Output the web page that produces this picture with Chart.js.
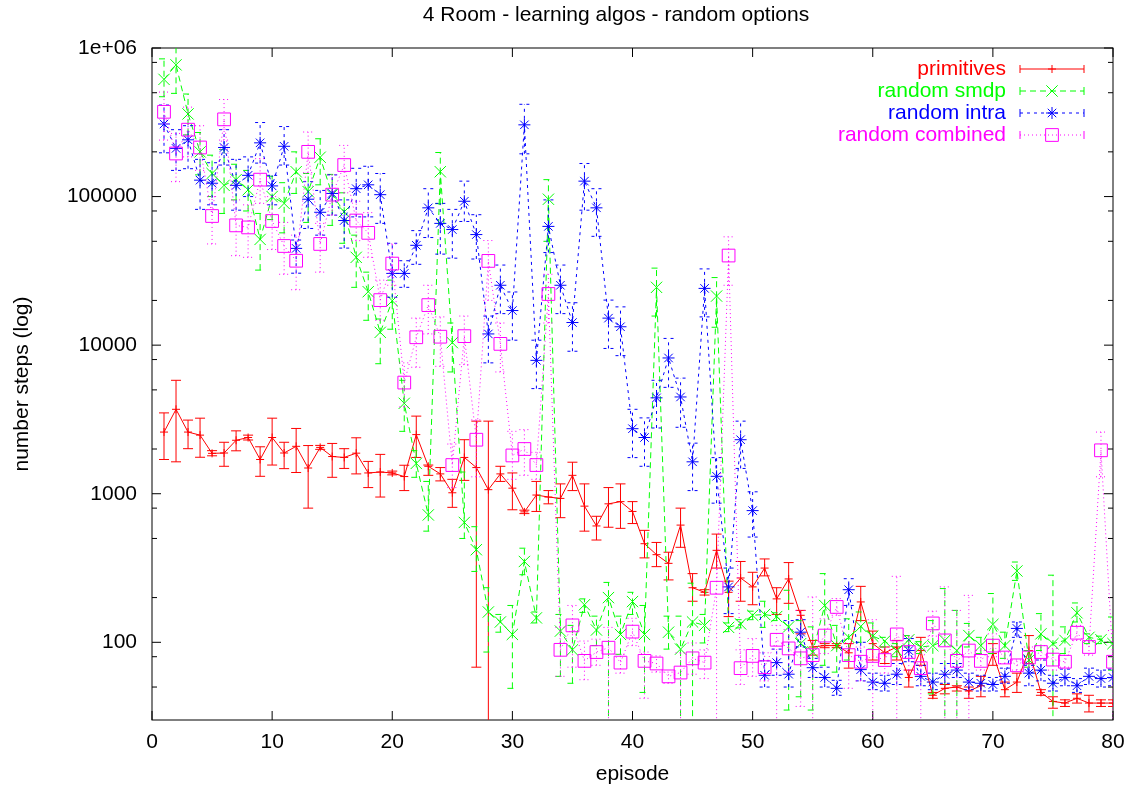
<!DOCTYPE html>
<html>
<head>
<meta charset="utf-8">
<title>4 Room - learning algos - random options</title>
<script src="https://cdn.jsdelivr.net/npm/chart.js@4.4.1/dist/chart.umd.min.js"></script>
<style>
	body { margin: 0; background: #fff; }
	canvas { display: block; }
</style>
</head>
<body>
<canvas id="chart0" width="1138" height="790"></canvas>
<script>
const chartTitle = "4 Room - learning algos - random options";

const episodes = [1, 2, 3, 4, 5, 6, 7, 8, 9, 10, 11, 12, 13, 14, 15, 16, 17, 18, 19, 20,
	21, 22, 23, 24, 25, 26, 27, 28, 29, 30, 31, 32, 33, 34, 35, 36, 37, 38, 39, 40,
	41, 42, 43, 44, 45, 46, 47, 48, 49, 50, 51, 52, 53, 54, 55, 56, 57, 58, 59, 60,
	61, 62, 63, 64, 65, 66, 67, 68, 69, 70, 71, 72, 73, 74, 75, 76, 77, 78, 79, 80];

// primitives
const primSteps = [2600, 3700, 2600, 2480, 1870, 1880, 2290, 2390, 1700, 2390,
	1880, 2085, 1490, 2050, 1780, 1755, 1875, 1380, 1400, 1380,
	1305, 2500, 1530, 1360, 1015, 1755, 1500, 1065, 1360, 1090,
	755, 980, 950, 930, 1330, 825, 607, 855, 885, 760,
	461, 389, 340, 615, 233, 217, 416, 217, 271, 236,
	316, 196, 267, 152, 93, 95, 95, 85, 187, 98,
	85, 93, 58, 88, 44, 49, 50, 47, 51, 84,
	48, 54, 88, 46, 40, 39, 42, 39, 39, 39];
const primLo = [1700, 1640, 2010, 1760, 1800, 1530, 1945, 2300, 1310, 1560,
	1475, 1390, 800, 1990, 1290, 1480, 1360, 1100, 950, 1340,
	1050, 1755, 1330, 1220, 810, 1230, 68, 10, 1210, 780,
	735, 760, 855, 690, 1050, 560, 488, 595, 585, 630,
	370, 323, 263, 436, 189, 208, 316, 149, 189, 179,
	280, 154, 183, 114, 82, 92, 92, 67, 140, 76,
	72, 76, 50, 70, 42, 45, 47, 42, 43, 70,
	43, 46, 72, 44, 36, 37, 39, 34, 37, 37];
const primHi = [3500, 5800, 3130, 3225, 1950, 2220, 2650, 2480, 2070, 3225,
	2220, 2750, 2110, 2115, 2180, 2010, 2380, 1650, 1840, 1420,
	1555, 3330, 1560, 1500, 1250, 2310, 3080, 3080, 1530, 1380,
	775, 1210, 1050, 1165, 1630, 1165, 705, 1100, 1165, 885,
	567, 470, 404, 800, 290, 226, 535, 258, 350, 296,
	364, 233, 344, 164, 103, 98, 98, 98, 238, 119,
	93, 103, 65, 108, 46, 52, 51, 50, 59, 98,
	54, 62, 111, 48, 43, 41, 45, 44, 41, 41];

// random smdp
const smdpSteps = [615000, 770000, 360000, 200000, 143000, 119000, 130000, 111000, 51500, 100000,
	90000, 147000, 108000, 184000, 103000, 79000, 39000, 22900, 12200, 19900,
	4060, 1600, 720, 147000, 10400, 641, 420, 160, 137, 113,
	350, 146, 96000, 119, 89, 179, 121, 200, 113, 188,
	113, 24500, 117, 90, 137, 130, 21400, 126, 133, 152,
	154, 149, 127, 98, 86, 177, 95, 108, 128, 110,
	102, 88, 104, 93, 95, 103, 88, 111, 95, 132,
	95, 302, 76, 114, 98, 103, 158, 108, 104, 98];
const smdpLo = [470000, 495000, 260000, 140000, 100000, 77000, 95000, 80000, 32000, 70000,
	57000, 105000, 67000, 120000, 64000, 48500, 24500, 14700, 7500, 12800,
	2630, 1290, 560, 89600, 6600, 500, 300, 86, 117, 49,
	285, 135, 50000, 59, 53, 159, 95, 20, 83, 154,
	46, 15700, 90, 20, 20, 99, 13200, 118, 125, 142,
	126, 140, 35, 43, 35, 70, 63, 76, 100, 90,
	93, 80, 93, 84, 45, 20, 20, 93, 84, 84,
	78, 261, 68, 88, 20, 84, 137, 98, 98, 65];
const smdpHi = [845000, 1100000, 490000, 270000, 190000, 207000, 165000, 150000, 77000, 137000,
	124000, 200000, 143000, 245000, 141000, 106000, 55000, 31000, 15000, 27400,
	5800, 1950, 1210, 198000, 14100, 1400, 600, 233, 154, 177,
	430, 160, 130000, 154, 130, 196, 150, 253, 150, 217,
	177, 33000, 150, 150, 250, 154, 28500, 135, 142, 162,
	189, 158, 224, 140, 127, 290, 130, 144, 160, 135,
	108, 98, 111, 101, 140, 230, 164, 134, 108, 213,
	117, 347, 88, 156, 283, 127, 184, 114, 110, 148];

// random intra
const intraSteps = [308000, 211000, 241000, 129000, 123000, 214000, 119000, 139000, 230000, 118000,
	218000, 44800, 96000, 78400, 105000, 69000, 113000, 120000, 103000, 30400,
	30400, 47000, 84000, 66000, 60000, 93000, 55500, 11900, 25300, 17100,
	304000, 7900, 63000, 25300, 14200, 127000, 84000, 15200, 13300, 2740,
	2390, 4420, 8200, 4480, 1640, 24100, 1310, 236, 2310, 770,
	60, 73, 61, 117, 67.5, 58, 49, 226, 65.5, 54,
	53, 61, 88, 59, 54, 61, 65, 54, 53, 52,
	59, 124, 62, 65, 53, 58, 51, 59, 57, 58];
const intraLo = [197000, 150000, 154000, 82000, 88000, 163000, 81000, 100000, 168000, 88000,
	163000, 30500, 61000, 55000, 75000, 45000, 73000, 73000, 66000, 21000,
	24500, 35000, 53000, 41000, 38500, 68000, 38000, 7600, 16300, 10800,
	194000, 5100, 42000, 16300, 9100, 81000, 54000, 9500, 8500, 1750,
	1530, 2770, 5200, 2800, 1050, 15500, 864, 156, 1480, 511,
	50, 60, 50, 93, 58, 50, 44, 177, 55, 48,
	47, 52, 74, 51, 48, 53, 58, 48, 47, 47,
	53, 108, 51, 55, 47, 51, 46, 52, 50, 51];
const intraHi = [413000, 282000, 300000, 178000, 169000, 282000, 178000, 185000, 315000, 139000,
	296000, 51000, 126000, 110000, 140000, 95000, 155000, 160000, 143000, 48500,
	37000, 59000, 113000, 90000, 82000, 127000, 75500, 15700, 34600, 22800,
	418000, 10800, 95000, 34600, 19300, 167000, 113000, 20100, 18100, 3700,
	3240, 5800, 11100, 6000, 2190, 32600, 1750, 316, 3080, 1030,
	75, 90, 140, 142, 78, 68, 55.5, 268, 100, 62,
	60, 72, 106, 70, 62, 72, 72, 62, 60, 58,
	67, 137, 70, 76, 60, 66, 57, 67, 65, 66];

// random combined
const combSteps = [372000, 195000, 282000, 214000, 74000, 331000, 64000, 62000, 130000, 68500,
	46500, 37000, 200000, 48000, 103000, 163000, 69000, 57000, 20100, 35400,
	5600, 11300, 18600, 11400, 1560, 11500, 2310, 36900, 10200, 1810,
	2000, 1560, 22100, 89, 130, 75, 86, 92, 73, 118,
	75, 72, 59, 62.6, 78, 73, 233, 40100, 67, 81,
	68, 104, 91, 78, 82, 111, 173, 82, 74, 81,
	76, 113, 86, 67, 134, 103, 75, 88, 75, 95,
	79, 70, 79, 86, 76.5, 74, 116, 93, 1960, 74];
const combLo = [240000, 126000, 185000, 150000, 48000, 240000, 40000, 39000, 90000, 44000,
	30000, 23600, 145000, 31000, 75000, 106000, 50500, 39000, 14700, 25300,
	3840, 7100, 11900, 7200, 1100, 7400, 1300, 20000, 6600, 1250,
	1330, 1250, 14100, 59, 68, 56, 70, 20, 62, 95,
	42, 63, 53, 20, 61, 57, 20, 25300, 52, 59,
	55, 20, 63, 37, 20, 84, 152, 49, 55, 20,
	62, 20, 65, 20, 110, 20, 20, 20, 65, 80,
	72, 65, 68, 76, 65, 68, 103, 82, 1300, 20];
const combHi = [505000, 266000, 400000, 300000, 100000, 450000, 95000, 88000, 180000, 100000,
	67000, 55000, 272000, 66000, 140000, 221000, 93000, 78000, 27400, 48000,
	7600, 15200, 25300, 15500, 2160, 15700, 3140, 50600, 14100, 2630,
	2700, 1900, 30000, 126, 177, 102, 105, 126, 83, 145,
	86, 81, 63, 85, 99, 89, 316, 53600, 89, 106,
	85, 130, 122, 164, 202, 144, 197, 98, 93, 142,
	93, 278, 110, 90, 162, 236, 164, 207, 88, 114,
	86, 76, 93, 95, 91, 82, 130, 101, 2600, 120];

const xTicks = [0, 10, 20, 30, 40, 50, 60, 70, 80];
const yTicks = [100, 1000, 10000, 100000, 1000000];
const yTickLabels = ["100", "1000", "10000", "100000", "1e+06"];
const yMinorTicks = [50, 80, 200, 500, 800, 2000, 5000, 8000, 20000, 50000, 80000, 200000, 500000, 800000];

const FONT = '"Liberation Sans", Arial, Helvetica, sans-serif';
Chart.defaults.font.family = FONT;
Chart.defaults.font.size = 21;
Chart.defaults.color = "#000";

function points(vals) {
	return episodes.map((e, i) => ({ x: e, y: vals[i] }));
}

function series(label, color, vals, lo, hi, style, radius, dash, order) {
	return {
		label: label,
		data: points(vals),
		errLo: lo,
		errHi: hi,
		borderColor: color,
		borderWidth: 1,
		borderDash: dash,
		pointStyle: style,
		pointRadius: radius,
		pointBorderColor: color,
		pointBorderWidth: 1,
		pointBackgroundColor: "rgba(0,0,0,0)",
		tension: 0,
		fill: false,
		order: order
	};
}

// border box with inward ticks on all four sides
const frame = {
	id: "frame",
	beforeDatasetsDraw(chart) {
		const { ctx, chartArea: a, scales: { x, y } } = chart;
		ctx.save();
		ctx.strokeStyle = "#000";
		ctx.lineWidth = 1;
		ctx.strokeRect(a.left, a.top, a.right - a.left, a.bottom - a.top);
		ctx.beginPath();
		xTicks.forEach(v => {
			const px = x.getPixelForValue(v);
			ctx.moveTo(px, a.bottom); ctx.lineTo(px, a.bottom - 9);
			ctx.moveTo(px, a.top); ctx.lineTo(px, a.top + 9);
		});
		yTicks.forEach(v => {
			const py = y.getPixelForValue(v);
			ctx.moveTo(a.left, py); ctx.lineTo(a.left + 9, py);
			ctx.moveTo(a.right, py); ctx.lineTo(a.right - 9, py);
		});
		yMinorTicks.forEach(v => {
			const py = y.getPixelForValue(v);
			ctx.moveTo(a.left, py); ctx.lineTo(a.left + 5, py);
			ctx.moveTo(a.right, py); ctx.lineTo(a.right - 5, py);
		});
		ctx.stroke();
		ctx.restore();
	}
};

// vertical error bars, drawn with each dataset in its own dash style
const errorBars = {
	id: "errorBars",
	afterDatasetDraw(chart, args) {
		const ds = chart.data.datasets[args.index];
		const { ctx, chartArea: a, scales: { x, y } } = chart;
		ctx.save();
		ctx.beginPath();
		ctx.rect(a.left, a.top, a.right - a.left, a.bottom - a.top);
		ctx.clip();
		ctx.strokeStyle = ds.borderColor;
		ctx.lineWidth = 1;
		ctx.setLineDash(ds.borderDash || []);
		ds.data.forEach((p, i) => {
			const px = x.getPixelForValue(p.x);
			const y1 = y.getPixelForValue(ds.errLo[i]);
			const y2 = y.getPixelForValue(ds.errHi[i]);
			ctx.beginPath();
			ctx.moveTo(px, y1); ctx.lineTo(px, y2);
			ctx.moveTo(px - 5, y1); ctx.lineTo(px + 5, y1);
			ctx.moveTo(px - 5, y2); ctx.lineTo(px + 5, y2);
			ctx.stroke();
		});
		ctx.restore();
	}
};

// title and the key in the top right corner
const titleAndKey = {
	id: "titleAndKey",
	afterDraw(chart) {
		const ctx = chart.ctx;
		ctx.save();
		ctx.font = "21px " + FONT;
		ctx.fillStyle = "#000";
		ctx.textAlign = "center";
		ctx.textBaseline = "alphabetic";
		ctx.fillText(chartTitle, 616, 21);

		chart.data.datasets.forEach((ds, i) => {
			const ky = 69 + i * 22;
			ctx.fillStyle = ds.borderColor;
			ctx.textAlign = "right";
			ctx.textBaseline = "middle";
			ctx.fillText(ds.label, 1006, ky);

			ctx.strokeStyle = ds.borderColor;
			ctx.lineWidth = 1;
			ctx.setLineDash(ds.borderDash || []);
			ctx.beginPath();
			ctx.moveTo(1020, ky); ctx.lineTo(1084, ky);
			ctx.stroke();
			ctx.setLineDash([]);
			ctx.beginPath();
			ctx.moveTo(1020, ky - 4); ctx.lineTo(1020, ky + 4);
			ctx.moveTo(1084, ky - 4); ctx.lineTo(1084, ky + 4);
			ctx.stroke();
			ctx.fillStyle = "rgba(0,0,0,0)";
			Chart.helpers.drawPoint(ctx, { pointStyle: ds.pointStyle, radius: ds.pointRadius, borderWidth: 1, rotation: 0 }, 1052, ky);
		});
		ctx.restore();
	}
};

new Chart("chart0", {
	type: "line",
	data: {
		datasets: [
			series("primitives", "#ff0000", primSteps, primLo, primHi, "cross", 4, [], 4),
			series("random smdp", "#00ff00", smdpSteps, smdpLo, smdpHi, "crossRot", 8, [6, 4], 3),
			series("random intra", "#0000ff", intraSteps, intraLo, intraHi, "star", 6, [3, 4], 2),
			series("random combined", "#ff00ff", combSteps, combLo, combHi, "rect", 9, [1, 3], 1)
		]
	},
	options: {
		responsive: false,
		animation: false,
		devicePixelRatio: 1,
		layout: { padding: { top: 48, right: 25, bottom: 0, left: 0 } },
		plugins: {
			legend: { display: false },
			title: { display: false },
			tooltip: { enabled: false }
		},
		scales: {
			x: {
				type: "linear",
				min: 0,
				max: 80,
				ticks: { stepSize: 10, padding: 10, maxRotation: 0 },
				grid: { display: false, drawTicks: false },
				border: { display: false },
				title: { display: true, text: "episode", padding: { top: 0, bottom: 3 } },
				afterFit(s) { s.height = 70; }
			},
			y: {
				type: "logarithmic",
				min: 30,
				max: 1000000,
				afterBuildTicks(s) { s.ticks = yTicks.map(v => ({ value: v })); },
				ticks: { padding: 15, callback: (v, i) => yTickLabels[i] },
				grid: { display: false, drawTicks: false },
				border: { display: false },
				title: { display: true, text: "number steps (log)", padding: { top: 10, bottom: 0 } },
				afterFit(s) { s.width = 152; }
			}
		}
	},
	plugins: [frame, errorBars, titleAndKey]
});
</script>
</body>
</html>
